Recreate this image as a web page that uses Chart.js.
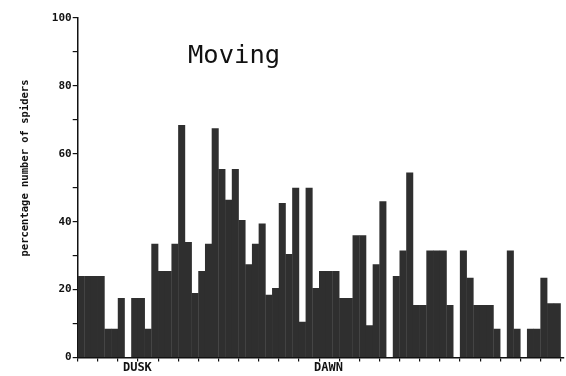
<!DOCTYPE html>
<html>
<head>
<meta charset="utf-8">
<script src="https://cdn.jsdelivr.net/npm/chart.js@4.4.0/dist/chart.umd.min.js"></script>
<style>
  html, body { margin: 0; padding: 0; background: #fff; }
</style>
</head>
<body>
<canvas id="myChart" width="566" height="376"></canvas>
<script>
// 20-minute bins over 24 hours, percentage of spiders moving
var binsPerHour = 3;
var moving = [
  24, 24, 24, 24, 8.5, 8.5, 17.5, 0, 17.5, 17.5, 8.5, 33.5,
  25.5, 25.5, 33.5, 68.5, 34, 19, 25.5, 33.5, 67.5, 55.5, 46.5, 55.5,
  40.5, 27.5, 33.5, 39.5, 18.5, 20.5, 45.5, 30.5, 50, 10.5, 50, 20.5,
  25.5, 25.5, 25.5, 17.5, 17.5, 36, 36, 9.5, 27.5, 46, 0, 24,
  31.5, 54.5, 15.5, 15.5, 31.5, 31.5, 31.5, 15.5, 0, 31.5, 23.5, 15.5,
  15.5, 15.5, 8.5, 0, 31.5, 8.5, 0, 8.5, 8.5, 23.5, 16, 16
];
var eventLabels = ["DUSK", "DAWN"];
var eventBins = [8.9, 37.4];
var yTickLabels = [0, 20, 40, 60, 80, 100];

var points = moving.map(function (v, i) { return { x: i + 0.5, y: v }; });

var mono = "'DejaVu Sans Mono', 'Liberation Mono', monospace";

var textPlugin = {
  id: "textPlugin",
  afterDraw: function (chart) {
    var ctx = chart.ctx;
    var xs = chart.scales.x;
    ctx.save();
    ctx.fillStyle = "#111";
    // title
    ctx.font = "25.5px " + mono;
    ctx.textAlign = "left";
    ctx.textBaseline = "alphabetic";
    ctx.fillText("Moving", 188, 63);
    // dusk / dawn markers
    ctx.font = "bold 12px " + mono;
    ctx.textAlign = "center";
    ctx.textBaseline = "top";
    eventLabels.forEach(function (t, i) {
      ctx.fillText(t, xs.getPixelForValue(eventBins[i]), 362);
    });
    // y axis title
    ctx.translate(25, 168);
    ctx.rotate(-Math.PI / 2);
    ctx.font = "bold 10.5px " + mono;
    ctx.textBaseline = "middle";
    ctx.fillText("percentage number of spiders", 0, 0);
    ctx.restore();
  }
};

var ctx = document.getElementById("myChart").getContext("2d");
var myChart = new Chart(ctx, {
  type: "bar",
  data: {
    datasets: [
      {
        data: points,
        backgroundColor: "#2f2f2f",
        borderWidth: 0,
        barPercentage: 1.05,
        categoryPercentage: 1,
      },
    ],
  },
  options: {
    responsive: false,
    animation: false,
    layout: { padding: { top: 18, right: 2, left: 0, bottom: 0 } },
    plugins: { legend: { display: false }, tooltip: { enabled: false } },
    scales: {
      x: {
        type: "linear",
        min: 0,
        max: 72.5,
        offset: false,
        grid: { drawOnChartArea: false, tickLength: 4, color: "#111", offset: false, lineWidth: 1.2 },
        border: { color: "#111", width: 1.5 },
        ticks: {
          stepSize: binsPerHour,
          includeBounds: false,
          autoSkip: false,
          maxRotation: 0,
          callback: function () { return ""; },
        },
        afterFit: function (s) { s.height = 18.5; },
      },
      y: {
        min: 0,
        max: 100,
        grid: { drawOnChartArea: false, tickLength: 5, color: "#111", lineWidth: 1.2 },
        border: { color: "#111", width: 1.5 },
        ticks: {
          stepSize: 10,
          padding: 1,
          color: "#111",
          font: { family: mono, size: 11, weight: "bold" },
          callback: function (v) { return yTickLabels.indexOf(v) >= 0 ? v : ""; },
        },
        afterFit: function (s) { s.width = 77.7; },
      },
    },
  },
  plugins: [textPlugin],
});
</script>
</body>
</html>
